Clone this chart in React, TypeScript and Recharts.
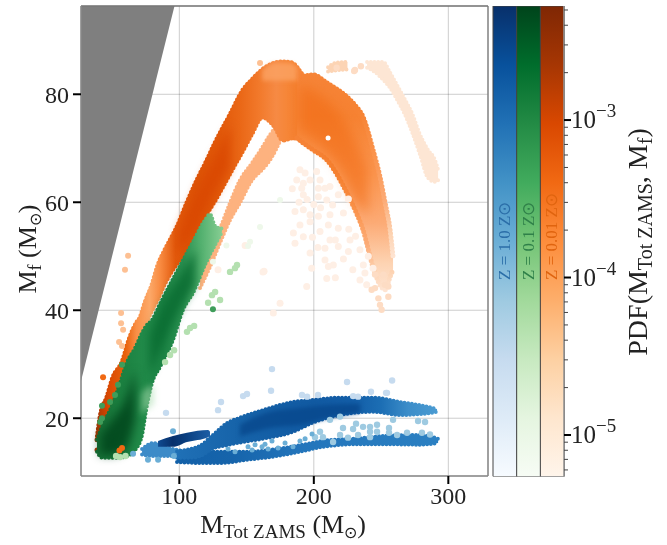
import React from 'react';
import { ComposedChart, XAxis, YAxis, Area, Scatter, CartesianGrid, ReferenceLine, Bar, Cell, LabelList } from 'recharts';

const FONT = '"Liberation Serif", serif';
const xDomain = [26.9, 329.5];
const yDomain = [9.3, 96.35];
const xTicks = [100, 200, 300];
const yTicks = [20, 40, 60, 80];

type Band = [number, number, number][];

const exclusion: Band = [[26.9, 96.35, 26.9], [96.4, 96.35, 96.35]];

const orangeLeft: Band = [
  [38.8, 16.0, 14.1], [41.1, 20.2, 14.1], [46.3, 24.0, 16.0], [50.7, 27.6, 18.8], [57.4, 30.4, 23.4],
  [63.4, 35.1, 26.2], [68.5, 37.8, 33.0], [70.8, 38.6, 35.1], [74.5, 41.4, 37.3], [79.7, 44.7, 40.1], [84.2, 48.4, 42.3],
  [89.4, 51.2, 45.1], [99.0, 55.8, 49.0], [105.7, 59.9, 51.2], [113.2, 64.1, 55.2], [120.6, 67.8, 58.0],
  [126.6, 71.0, 60.4], [137.7, 76.2, 65.4], [147.4, 80.8, 69.7], [154.1, 82.7, 72.8], [161.5, 84.5, 75.8],
  [171.2, 85.8, 73.9], [177.1, 86.0, 71.5], [183.8, 85.8, 71.9], [187.5, 84.9, 71.9], [192.0, 83.4, 71.0],
];
const orangeLeftStops: [number, string][] = [
  [38.8, '#a63603'], [47, '#d94801'], [60, '#e8610c'], [68, '#f98f46'], [78, '#fca868'], [86, '#f88a40'],
  [97, '#e2590c'], [112, '#dd5306'], [130, '#e2590a'], [145, '#ea6716'], [160, '#f27a2c'], [172, '#f68a44'],
  [180, '#f68638'], [192, '#f47c2a'],
];
const orangeRight: Band = [
  [187.5, 84.9, 71.9], [192, 83.4, 71.0], [199.4, 83.6, 69.7], [209.8, 82.1, 67.8], [224.7, 79.5, 61.7],
  [230.6, 78, 58.6], [236.6, 75.8, 54.9], [244, 69.7, 48.0], [249.2, 64.7, 44.7], [253, 59.9, 43.8],
  [256.7, 54.9, 46.2], [258.9, 49.9, 47.5],
];
const orangeRightStops: [number, string][] = [
  [0, '#f68438'], [0.22, '#f68232'], [0.48, '#fb9650'], [0.7, '#fcab76'], [0.88, '#fdd3b2'], [1, '#fee4d2'],
];
const orangeCoreLeft: Band = [
  [99, 54.5, 50.2], [105.7, 58.5, 52.1], [113.2, 62.4, 55.2], [120.6, 66.1, 59], [126.6, 68.8, 61.8], [137.7, 74.3, 66.4],
];
const orangeCoreRight: Band = [
  [189.7, 81.7, 73.4], [204.6, 79.9, 70.6], [219.5, 76.2, 66], [230.6, 71.5, 60.4], [240.3, 66, 57.7],
];
const orangeCap: Band = [[161.5, 84.5, 82.5], [171.2, 85.8, 82.5], [183.8, 85.8, 82.5], [187.5, 84.9, 82.5]];
const orangeBranch: Band = [
  [115.4, 45.6, 44.1], [122.8, 51.2, 48.0], [130.3, 55.2, 52.5], [137.7, 59.9, 56.7], [145.1, 64.1, 59.9],
  [154.1, 67.3, 64.1], [161.5, 70.1, 66.0], [167.4, 72.5, 67.8], [176.4, 75.2, 72.1],
];
const paleRibbon: Band = [
  [239.6, 86, 84.9], [245.5, 86, 84.1], [251.5, 86, 82.7], [256.7, 84, 81.2], [261.9, 81.7, 79],
  [267.8, 79, 76.2], [273, 76.5, 73], [279, 72.5, 68.8], [284.9, 69.7, 64.5], [290.1, 67.8, 63.8], [292.4, 66, 64.1],
];
const paleCap: Band = [[210.6, 85, 84.2], [216, 85.8, 84.4], [225, 86, 84.6]];
const greenMain: Band = [
  [38.8, 16.0, 13.8], [42.5, 18.4, 12.7], [50.7, 22.8, 12.7], [55.9, 26.5, 12.7], [61.1, 30.4, 13.0],
  [67.1, 33.0, 14.1], [72.3, 35.8, 16.9], [75.3, 37.1, 21.5], [79.7, 38.2, 26.5], [85.7, 41.2, 29.5],
  [95.3, 45.8, 34.5], [102.8, 49.3, 40.1], [110.2, 52.7, 43.2], [119.1, 56.7, 48.4], [122.8, 57.8, 50.3],
  [126.6, 55.6, 52.1], [131.7, 55.1, 54.5],
];
const greenStops: [number, string][] = [
  [38.8, '#176f36'], [55, '#1b8040'], [72, '#218a49'], [88, '#1c8445'], [103, '#2b9151'], [115, '#4fae6c'], [131.7, '#86cd92'],
];
const greenCoreLow: Band = [[41.1, 16.9, 13.2], [50, 19.7, 13.2], [59.6, 23.4, 14.1], [67.1, 29, 19.7]];
const greenCoreMid: Band = [[78.2, 35.4, 28], [89.4, 41.9, 34.5], [100.5, 46.5, 40.1], [111.7, 51.2, 44.7]];
const greenPale: Band = [[72, 24.5, 20.5], [75.3, 25.5, 21.5], [81, 26, 22.5]];
const blueUpper: Band = [
  [98.3, 13.9, 12.7], [108, 14.3, 12.7], [115.4, 14.9, 13], [125, 16.9, 14.4], [135.5, 19.1, 15],
  [145.1, 20.1, 15.5], [162.2, 21.5, 16.2], [184.5, 23, 17.5], [199.4, 23.4, 19.2], [219.5, 23.8, 20.6],
  [244, 23.8, 21.2], [264.1, 23, 20.6], [281.2, 22.3, 20.8], [291.6, 21.7, 21.2],
];
const blueUpperStops: [number, string][] = [
  [98.3, '#1f70b6'], [125, '#1a68ae'], [145, '#1663a9'], [185, '#125ca4'], [200, '#115aa2'], [230, '#135ea8'],
  [250, '#1c6eb4'], [270, '#3c8dc9'], [291.6, '#4a9bd2'],
];
const blueCore: Band = [[145.1, 18.8, 16.6], [167.4, 21.2, 18.2], [189.7, 21.9, 18.8], [212, 22.5, 20.1], [234.4, 22.7, 21]];
const blueLower: Band = [
  [98.3, 13, 11.9], [117.6, 13.8, 11.7], [130.3, 13.8, 11.7], [150.3, 13.8, 12.3], [172.6, 14.3, 13],
  [189.7, 15, 13.8], [206.8, 15.8, 14.7], [234.4, 16.3, 15.2], [251.5, 16.7, 15.2], [279, 16.9, 15.1], [292.4, 16.2, 15.4],
];
const blueLowerStops: [number, string][] = [
  [98.3, '#1260a8'], [140, '#1664ab'], [190, '#2375bb'], [292.4, '#2b80c2'],
];
const blueShort: Band = [[84.2, 15.8, 14.7], [95.3, 16.7, 14.7], [105.7, 17.3, 15.6], [121.4, 17.8, 16.5], [122.8, 17.5, 16.7]];
const blueShortStops: [number, string][] = [[84.2, '#0f4a90'], [95, '#08306b'], [105, '#0a3f80'], [122.8, '#1c5ea5']];
const blueLeft: Band = [[72.3, 14.3, 13.3], [80.5, 15.4, 13], [90.9, 14.6, 13], [100.5, 14, 13]];

type Pt = [number, number];
const paleCloud: Pt[] = [
  [189.7, 66], [193.5, 65.4], [187.3, 64.1], [192.2, 63.5], [191, 62.6], [197.2, 64.1], [202.1, 65.7], [204.6, 64.1],
  [203.4, 62.6], [208.3, 62.6], [212, 62.9], [192.2, 61.4], [203.4, 61], [209.6, 60.4], [218.2, 61.4], [225.7, 60.6],
  [186, 58.3], [192.2, 58.6], [197.2, 57.7], [189.7, 55.8], [197.2, 56.4], [203.4, 57.4], [212, 57.7], [210.8, 55.8],
  [218.2, 55.2], [184.8, 54.3], [192.2, 53.6], [186, 52.4], [204.6, 54.6], [212, 53], [218.2, 51.8], [208.3, 51.5],
  [226.9, 53], [225.7, 50.9], [234.3, 51.2], [240.5, 50], [197.2, 50.6], [208.3, 49.3], [210.8, 48.1], [214.5, 48.4],
  [236.8, 48.4], [209.6, 45.9], [198.4, 47.8], [234.3, 45.6], [239.3, 44.7], [163, 47.2], [194.7, 44.4], [174.9, 41.3],
  [169.9, 39.5], [128.8, 47.5], [162.2, 47.1], [148.9, 52], [195, 60.5], [200, 59.6], [205, 59], [214, 59.5], [222, 58],
  [199, 53.5], [216, 53], [222, 49.5], [229, 47.5], [216, 46], [203, 51.6], [189, 60], [184, 62.5], [226, 55], [231, 53.7],
  [238, 46.9], [244, 47.8],
];
const legDots: Pt[] = [
  [245.5, 46.6], [251.7, 46.6], [245.5, 44.1], [252.9, 44.7], [248, 42.2], [255.4, 42.5], [250.4, 40.1], [243, 43.8],
  [255.4, 44.4], [249.2, 41], [217, 84.9], [230.6, 84.5], [235, 85.2], [230, 84.3],
];
const orangeLight: Pt[] = [
  [160, 85.8], [56.7, 39.5], [56.7, 37.6], [58.2, 36.4], [55.2, 34.1], [57.4, 33.4], [61.9, 50.1], [59.6, 47.5],
];
const orangeStrong: Pt[] = [[43.3, 27.6], [57.4, 14.5], [55.5, 14]];
const holes: Pt[] = [[210.6, 71.9]];
const greenFaint: Pt[] = [
  [124.3, 42.8], [126.6, 43.4], [121.4, 41.4], [130.3, 41.9], [137.7, 47.1], [141.4, 47.8], [142.9, 48.4], [108, 36.7],
  [111, 37.1], [105.7, 36], [93.1, 31.7], [89.4, 30.4], [96.1, 32.6], [53, 13], [56, 12.8], [60, 13],
];
const greenVeryFaint: Pt[] = [[152.6, 52.7], [151.1, 51.9], [160, 55.4], [174.9, 60.4], [125, 49], [135, 52]];
const greenStrong: Pt[] = [[57.4, 29.9], [54.4, 26.2], [52.2, 24.3], [48.5, 23], [42.5, 22.3], [42.5, 20], [41.1, 19.3], [125, 40.2]];
const bluePale: Pt[] = [
  [90.1, 21], [128.8, 21.5], [131, 23], [147.4, 24.1], [150.3, 24.5], [168.2, 25.1], [168.9, 29.1], [224.7, 26.7], [258.2, 27],
  [242.5, 24.9], [254.4, 24.7], [191.2, 24.3], [195, 24], [203.1, 24.3], [229.2, 24.1], [232.9, 24], [253.7, 24.7],
];
const blueMedium: Pt[] = [[95.3, 17.6], [76.7, 12.3], [84.2, 12.3], [65.6, 13.4], [96, 13]];
const blueBetween: Pt[] = [
  [277.5, 19.5], [282.7, 19.3], [258.9, 19.7], [219.5, 20.3], [212, 19.7], [221.7, 18.2], [231.4, 19], [229.2, 18], [236.6, 18.4],
  [241.8, 18.4], [247, 18.8], [241.8, 17.5], [247, 17.5], [255.9, 18.2], [255.9, 17.3], [219.5, 16.9], [232.9, 16.9], [241.8, 16.5],
  [204.6, 17.5], [206.8, 16.5], [200.9, 16.5], [214.3, 15.6], [225.4, 16.4], [280.4, 17.3], [286.4, 17], [269.3, 17.3], [261.9, 16.9],
];
const blueGap: Pt[] = [
  [136.2, 14.3], [141.4, 13.8], [156.3, 15.1], [161.5, 14.7], [166, 14.3], [168.9, 15.8], [173.4, 14.5], [178.6, 15.4], [184.5, 14.7],
  [189.7, 15.8], [193.5, 16.2], [198.7, 17.1], [163.7, 15.2], [154.1, 14.1], [151.1, 14.7],
];

const zKeys = ['Z = 1.0 Z\u2299', 'Z = 0.1 Z\u2299', 'Z = 0.01 Z\u2299'];
const zTextColors = ['#2b6ea8', '#2f8049', '#e0640f'];
const pdfDomain = [5.45e-6, 5.3e-3];
const majorTicks = [1e-3, 1e-4, 1e-5];
const majorExp = ['\u22123', '\u22124', '\u22125'];
const minorTicks = [
  5e-3, 4e-3, 3e-3, 2e-3, 9e-4, 8e-4, 7e-4, 6e-4, 5e-4, 4e-4, 3e-4, 2e-4,
  9e-5, 8e-5, 7e-5, 6e-5, 5e-5, 4e-5, 3e-5, 2e-5, 9e-6, 8e-6, 7e-6, 6e-6,
];
const blues = ['#08306b', '#08519c', '#2171b5', '#4292c6', '#6baed6', '#9ecae1', '#c6dbef', '#deebf7', '#f7fbff'];
const greens = ['#00441b', '#006d2c', '#238b45', '#41ab5d', '#74c476', '#a1d99b', '#c7e9c0', '#e5f5e0', '#f7fcf5'];
const oranges = ['#7f2704', '#a63603', '#d94801', '#f16913', '#fd8d3c', '#fdae6b', '#fdd0a2', '#fee6ce', '#fff5eb'];

const rows = (b: Band) => b.map(([x, hi, lo]) => ({ x, r: [lo, hi] }));
const pts = (p: Pt[]) => p.map(([x, y]) => ({ x, y }));

const xGrad = (id: string, stops: [number, string][]) => {
  const a = stops[0][0];
  const b = stops[stops.length - 1][0];
  return (
    <linearGradient id={id} x1="0" y1="0" x2="1" y2="0">
      {stops.map(([x, c], i) => <stop key={i} offset={(x - a) / (b - a)} stopColor={c} />)}
    </linearGradient>
  );
};

const band = (key: string, data: Band, fill: string, opacity = 1, blur = 0) => (
  <Area key={key} data={rows(data)} dataKey="r" type="monotoneX" fill={fill} fillOpacity={opacity} stroke="none" dot={false} activeDot={false} isAnimationActive={false} legendType="none"
    style={blur ? { filter: `blur(${blur}px)` } : undefined} />
);
const rough = (key: string, data: Band, fill: string, w = 5) => (
  <Area key={key} data={rows(data)} dataKey="r" type="monotoneX" fill={fill} fillOpacity={1} stroke={fill} strokeWidth={w} strokeDasharray="0 3.7" strokeLinecap="round"
    dot={false} activeDot={false} isAnimationActive={false} legendType="none" />
);
const dots = (key: string, data: Pt[], fill: string, r = 3, opacity = 1) => (
  <Scatter key={key} data={pts(data)} dataKey="y" fill={fill} isAnimationActive={false} legendType="none"
    shape={(p: any) => <circle cx={p.cx} cy={p.cy} r={r} fill={fill} fillOpacity={opacity} />} />
);

const XTitle = () => (
  <text x={283} y={533} textAnchor="middle" fontFamily={FONT} fontSize={26} fill="#222">
    M<tspan dy={5} fontSize={19}>Tot ZAMS</tspan><tspan dy={-5}> (M</tspan><tspan dy={5} fontSize={16}>{'\u2299'}</tspan><tspan dy={-5}>)</tspan>
  </text>
);
const YTitle = () => (
  <text x={36} y={249} transform="rotate(-90 36 249)" textAnchor="middle" fontFamily={FONT} fontSize={26} fill="#222">
    M<tspan dy={5} fontSize={18}>f</tspan><tspan dy={-5}> (M</tspan><tspan dy={5} fontSize={16}>{'\u2299'}</tspan><tspan dy={-5}>)</tspan>
  </text>
);
const PdfTitle = () => (
  <text x={647} y={242} transform="rotate(-90 647 242)" textAnchor="middle" fontFamily={FONT} fontSize={28} fill="#222">
    PDF(M<tspan dy={5} fontSize={20}>Tot ZAMS</tspan><tspan dy={-5}>, M</tspan><tspan dy={5} fontSize={20}>f</tspan><tspan dy={-5}>)</tspan>
  </text>
);

const PdfTick = ({ x, y, payload }: any) => {
  const i = majorTicks.indexOf(payload.value);
  if (i < 0) return <line x1={x} x2={x + 4} y1={y} y2={y} stroke="#444" strokeWidth={1} />;
  return (
    <g>
      <line x1={x} x2={x + 7} y1={y} y2={y} stroke="#000" strokeWidth={2} />
      <text x={x + 7} y={y + 8} fontFamily={FONT} fontSize={25} fill="#222">
        10<tspan dy={-11} fontSize={19}>{majorExp[i]}</tspan>
      </text>
    </g>
  );
};

const ZLabel = (props: any) => {
  const { x, y, width, index } = props;
  const cx = x + width / 2 + 5;
  const cy = y + 274;
  return (
    <text x={cx} y={cy} transform={`rotate(-90 ${cx} ${cy})`} fontFamily={FONT} fontSize={17} fill={zTextColors[index]}>
      {zKeys[index]}
    </text>
  );
};

const barData = zKeys.map((z) => ({ z, top: pdfDomain[1] }));
const gradIds = ['cbBlue', 'cbGreen', 'cbOrange'];

export default function App() {
  return (
    <div style={{ position: 'absolute', left: 0, top: 0, width: 667, height: 545, background: '#fff', filter: 'blur(0.45px)' }}>
      <div style={{ position: 'absolute', left: 0, top: 0 }}>
        <ComposedChart width={667} height={545} margin={{ left: 41, right: 179, top: 6, bottom: 29 }}>
          <defs>
            {xGrad('gOL', orangeLeftStops)}
            {xGrad('gG', greenStops)}
            {xGrad('gBU', blueUpperStops)}
            {xGrad('gBL', blueLowerStops)}
            {xGrad('gBS', blueShortStops)}
            <linearGradient id="gOR" x1="0" y1="0" x2="0" y2="1">
              {orangeRightStops.map(([o, c], i) => <stop key={i} offset={o} stopColor={c} />)}
            </linearGradient>
          </defs>
          <XAxis dataKey="x" type="number" domain={xDomain} ticks={xTicks} allowDataOverflow height={40}
            tick={{ fontFamily: FONT, fontSize: 24, fill: '#222' }} tickSize={8} tickMargin={3}
            tickLine={{ stroke: '#000', strokeWidth: 2 }} axisLine={{ stroke: '#888', strokeWidth: 1.5 }} />
          <YAxis dataKey="y" type="number" domain={yDomain} ticks={yTicks} allowDataOverflow width={40}
            tick={{ fontFamily: FONT, fontSize: 24, fill: '#222' }} tickSize={8} tickMargin={4}
            tickLine={{ stroke: '#000', strokeWidth: 2 }} axisLine={{ stroke: '#888', strokeWidth: 1.5 }} />
          {rough('paleRibbon', paleRibbon, '#fde6d4', 4)}
          {rough('paleCap', paleCap, '#fcd4b4', 4)}
          {dots('paleCloud', paleCloud, '#feefe5', 3.5)}
          {dots('legDots', legDots, '#fddcc4', 3.2)}
          {rough('branch', orangeBranch, '#fdb27f', 4)}
          {rough('orangeLeft', orangeLeft, 'url(#gOL)')}
          {rough('orangeRight', orangeRight, 'url(#gOR)')}
          {band('orangeCoreLeft', orangeCoreLeft, '#d94801', 0.85, 5)}
          {band('orangeCoreRight', orangeCoreRight, '#f16913', 0.55, 6)}
          {band('orangeCap', orangeCap, '#fca66a', 0.7, 2)}
          {dots('orangeLight', orangeLight, '#fdc093', 3)}
          {dots('orangeStrong', orangeStrong, '#f16913', 3)}
          {dots('holes', holes, '#ffffff', 2.5)}
          {dots('greenVeryFaint', greenVeryFaint, '#eef8ea', 3)}
          {dots('greenFaint', greenFaint, '#b4e0b0', 3.2)}
          {rough('greenMain', greenMain, 'url(#gG)', 4)}
          {band('greenCoreLow', greenCoreLow, '#00441b', 0.85, 5)}
          {band('greenCoreMid', greenCoreMid, '#096c31', 0.85, 4)}
          {band('greenPale', greenPale, '#a9dcae', 0.55, 3)}
          {dots('greenStrong', greenStrong, '#3f9d5a', 3)}
          {dots('bluePale', bluePale, '#c6dbef', 3.2)}
          {dots('blueBetween', blueBetween, '#9ecae1', 3.2)}
          {dots('blueGap', blueGap, '#6baed6', 2.5)}
          {rough('blueLeft', blueLeft, '#3d8bc8', 4)}
          {rough('blueLower', blueLower, 'url(#gBL)', 4)}
          {rough('blueUpper', blueUpper, 'url(#gBU)', 4)}
          {band('blueCore', blueCore, '#08478c', 0.8, 2)}
          {band('blueShort', blueShort, 'url(#gBS)')}
          {dots('blueMedium', blueMedium, '#6baed6', 3)}
          <CartesianGrid stroke="#000" strokeOpacity={0.2} strokeWidth={1} />
          {band('exclusion', exclusion, '#7f7f7f')}
          <ReferenceLine x={xDomain[1]} stroke="#888" strokeWidth={1.5} />
          <ReferenceLine y={yDomain[1]} stroke="#777" strokeWidth={1.5} />
          <XTitle />
          <YTitle />
        </ComposedChart>
      </div>
      <div style={{ position: 'absolute', left: 0, top: 0 }}>
        <ComposedChart width={667} height={545} data={barData} barCategoryGap={0} margin={{ left: 493, right: 55, top: 6, bottom: 68.5 }}>
          <defs>
            {[blues, greens, oranges].map((cm, k) => (
              <linearGradient key={k} id={gradIds[k]} x1="0" y1="0" x2="0" y2="1">
                {cm.map((c, i) => <stop key={i} offset={i / (cm.length - 1)} stopColor={c} />)}
              </linearGradient>
            ))}
          </defs>
          <XAxis dataKey="z" type="category" hide padding={{ left: 0, right: 0 }} />
          <YAxis orientation="right" scale="log" type="number" domain={pdfDomain} allowDataOverflow
            ticks={[...minorTicks, ...majorTicks]} interval={0} width={48} tickSize={0} tickMargin={0} tickLine={false}
            axisLine={{ stroke: '#999', strokeWidth: 1.5 }} tick={<PdfTick />} />
          <Bar dataKey="top" stroke="#444" strokeWidth={1} isAnimationActive={false} legendType="none">
            {barData.map((_, i) => <Cell key={i} fill={`url(#${gradIds[i]})`} />)}
            <LabelList dataKey="top" content={<ZLabel />} />
          </Bar>
          <PdfTitle />
        </ComposedChart>
      </div>
    </div>
  );
}
